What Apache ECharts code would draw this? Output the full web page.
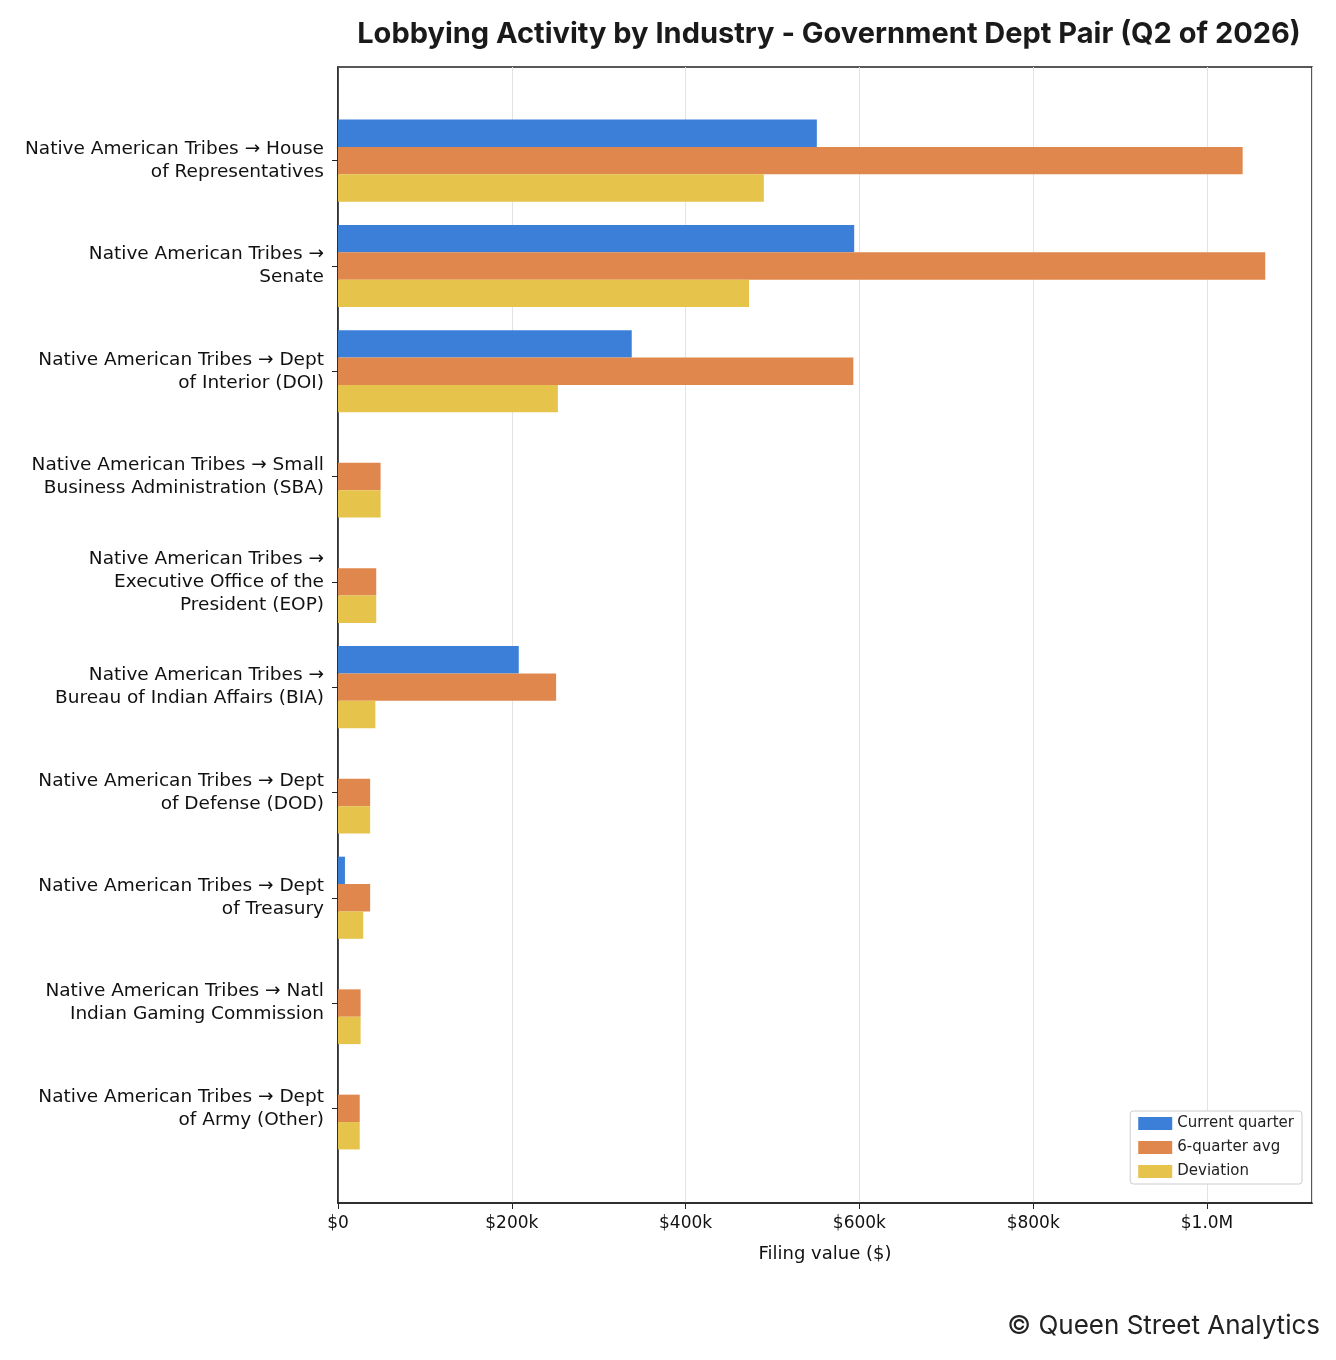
<!DOCTYPE html>
<html lang="en">
<head>
<meta charset="UTF-8">
<title>lobbying</title>
<script src="https://cdn.jsdelivr.net/npm/echarts@6/dist/echarts.min.js"></script>
<style>
    body { margin: 0; background: #fff; }
    #chart { width: 1336px; height: 1360px; }
</style>
</head>
<body>
<div id="chart"></div>
<script>
    var categories = [
        'Native American Tribes \u2192 House\nof Representatives',
        'Native American Tribes \u2192\nSenate',
        'Native American Tribes \u2192 Dept\nof Interior (DOI)',
        'Native American Tribes \u2192 Small\nBusiness Administration (SBA)',
        'Native American Tribes \u2192\nExecutive Office of the\nPresident (EOP)',
        'Native American Tribes \u2192\nBureau of Indian Affairs (BIA)',
        'Native American Tribes \u2192 Dept\nof Defense (DOD)',
        'Native American Tribes \u2192 Dept\nof Treasury',
        'Native American Tribes \u2192 Natl\nIndian Gaming Commission',
        'Native American Tribes \u2192 Dept\nof Army (Other)'
    ];
    var currentQuarter = [551000, 594000, 338000, 0, 0, 208000, 0, 8000, 0, 0];
    var sixQuarterAvg = [1041000, 1067000, 593000, 49000, 44000, 251000, 37000, 37000, 26000, 25000];
    var deviation = [490000, 473000, 253000, 49000, 44000, 43000, 37000, 29000, 26000, 25000];

    var labelFont = 'DejaVu Sans';
    var xMax = 1120800;
    var chart = echarts.init(document.getElementById('chart'));

    function money(v) {
        if (v >= 1000000) return '$' + (v / 1000000).toFixed(1) + 'M';
        if (v === 0) return '$0';
        return '$' + (v / 1000) + 'k';
    }

    chart.setOption({
        animation: false,
        title: {
            text: 'Lobbying Activity by Industry - Government Dept Pair (Q2 of 2026)',
            left: 824, top: 15, textAlign: 'center',
            textStyle: { fontFamily: 'Inter', fontWeight: 'bold', fontSize: 29, color: '#1a1a1a' }
        },
        graphic: [{
            type: 'text', right: 16, top: 1313,
            style: { text: '\u00a9 Queen Street Analytics', font: '26px Inter', fill: '#222' }
        }],
        legend: {
            orient: 'vertical', right: 34, top: 1111,
            data: ['Current quarter', '6-quarter avg', 'Deviation'],
            backgroundColor: '#fff', borderColor: '#cccccc', borderWidth: 1, borderRadius: 3,
            padding: [5, 8, 5, 8], itemGap: 9, itemWidth: 34, itemHeight: 13, icon: 'rect',
            textStyle: { fontFamily: labelFont, fontSize: 15, color: '#222' }
        },
        grid: [
            // frame grid
            { left: 338, top: 67, width: 974, height: 1136, show: true, borderColor: '#222', borderWidth: 1.5, backgroundColor: 'transparent' },
            // bar grid with padding above and below
            { left: 338, top: 108, width: 974, height: 1053 }
        ],
        xAxis: [{
            gridIndex: 0, type: 'value', min: 0, max: xMax, interval: 200000,
            name: 'Filing value ($)', nameLocation: 'middle', nameGap: 42,
            nameTextStyle: { fontFamily: labelFont, fontSize: 18, color: '#111' },
            axisLine: { show: true, lineStyle: { color: '#222', width: 1.5 } },
            axisTick: { show: true, length: 6, lineStyle: { color: '#222' } },
            axisLabel: { fontFamily: labelFont, fontSize: 17, color: '#111', margin: 12, showMaxLabel: false, formatter: money },
            splitLine: { show: true, lineStyle: { color: '#e3e3e3', width: 1 } }
        }, {
            gridIndex: 1, type: 'value', min: 0, max: xMax, show: false
        }],
        yAxis: [{
            gridIndex: 0, type: 'value', min: 0, max: 1,
            axisLine: { show: true, lineStyle: { color: '#222', width: 1.5 } },
            axisTick: { show: false }, axisLabel: { show: false }, splitLine: { show: false }
        }, {
            gridIndex: 1, type: 'category', data: categories, inverse: true,
            axisLine: { show: false },
            axisTick: { show: true, alignWithLabel: true, length: 6, lineStyle: { color: '#222' } },
            axisLabel: { fontFamily: labelFont, fontSize: 18.5, color: '#111', lineHeight: 23, align: 'right', margin: 14 }
        }],
        series: [
            { name: 'Current quarter', type: 'bar', xAxisIndex: 1, yAxisIndex: 1, data: currentQuarter, itemStyle: { color: '#3b7fd9' }, barGap: '0%', barCategoryGap: '22%' },
            { name: '6-quarter avg', type: 'bar', xAxisIndex: 1, yAxisIndex: 1, data: sixQuarterAvg, itemStyle: { color: '#e0874d' } },
            { name: 'Deviation', type: 'bar', xAxisIndex: 1, yAxisIndex: 1, data: deviation, itemStyle: { color: '#e6c34a' } }
        ]
    });
</script>
</body>
</html>
